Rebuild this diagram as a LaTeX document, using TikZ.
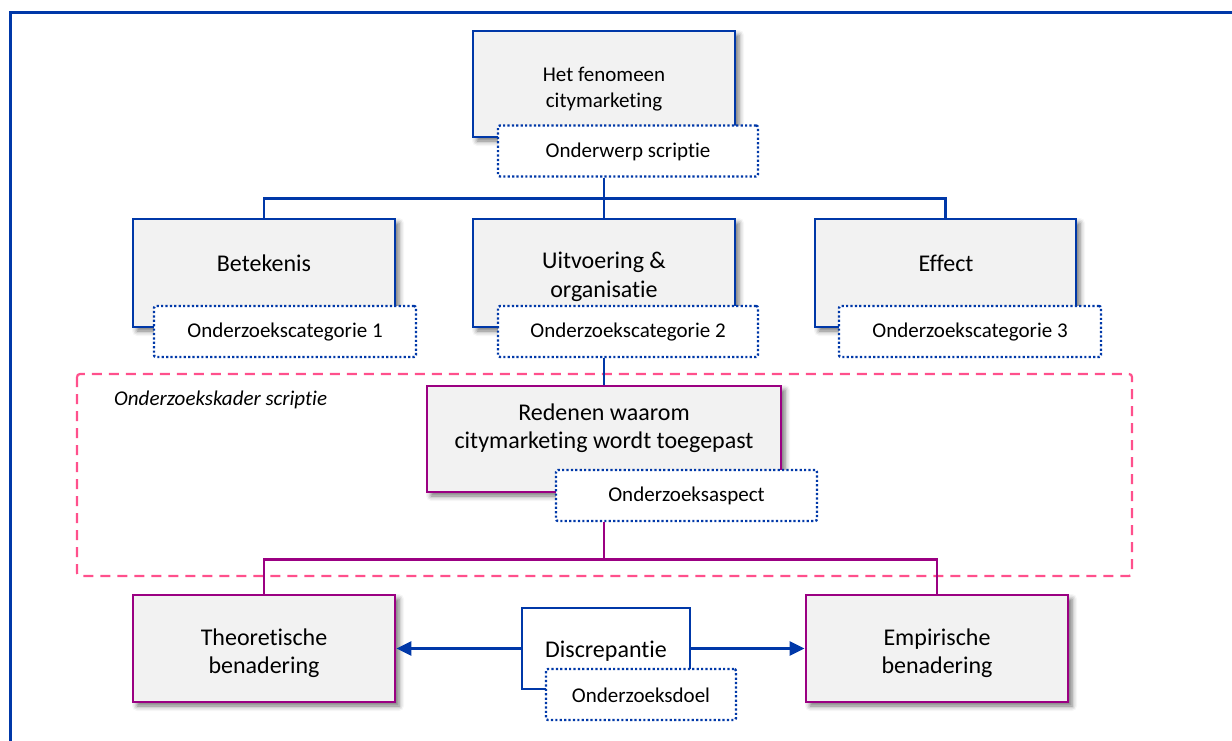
\documentclass[tikz,border=0pt]{standalone}
\usepackage{fontspec}
\setmainfont{Carlito}[Ligatures=NoCommon]
\usetikzlibrary{shadows.blur,arrows.meta}

\definecolor{frameblue}{RGB}{0,56,168}
\definecolor{aspectpurple}{RGB}{155,0,130}
\definecolor{kaderpink}{RGB}{255,80,140}
\definecolor{boxfill}{RGB}{242,242,242}

\tikzset{
  mainbox/.style={draw, line width=2.8pt, fill=boxfill, inner sep=0pt,
    blur shadow={shadow xshift=4pt, shadow yshift=-4pt, shadow blur radius=5pt, shadow opacity=55}},
  bluebox/.style={mainbox, draw=frameblue},
  purplebox/.style={mainbox, draw=aspectpurple},
  tagbox/.style={draw=frameblue, fill=white, line width=2.4pt, dash pattern=on 2.2pt off 2.2pt,
    rounded corners=2pt, inner sep=0pt, minimum height=51pt},
  bigtext/.style={inner sep=0pt, align=center, text=black, font=\fontsize{24}{28.5}\selectfont},
  toptext/.style={inner sep=0pt, align=center, text=black, font=\fontsize{21}{25.5}\selectfont},
  tagtext/.style={inner sep=0pt, text=black, font=\fontsize{21}{25}\selectfont},
  blueline/.style={draw=frameblue, line width=2.8pt},
  purpleline/.style={draw=aspectpurple, line width=2.8pt},
  arrowline/.style={blueline, -{Triangle[length=15pt,width=14pt]}},
}

\begin{document}
\begin{tikzpicture}[x=1pt,y=-1pt]
\useasboundingbox (0,0) rectangle (1232,740);
\clip (0,0) rectangle (1232,740);

% outer frame, running off the page at right and bottom
\draw[blueline, line width=3pt] (10,760) -- (10,12) -- (1250,12);

% research frame
\draw[draw=kaderpink, line width=2.2pt, dash pattern=on 10pt off 7pt, rounded corners=3pt]
  (77,374) rectangle (1132,576);
\node[anchor=west, inner sep=0pt, font=\fontsize{21}{25}\selectfont\itshape] (kader) at (114,400) {Onderzoekskader scriptie};

% subject
\node[bluebox, minimum width=262pt, minimum height=106pt] (top) at (604,84) {};
\node[toptext] (topt) at (604,89) {Het fenomeen\\citymarketing};
\node[tagbox, minimum width=260pt] (toptag) at (628,151) {};
\node[tagtext] (toptagt) at (628,152) {Onderwerp scriptie};

% research categories
\node[bluebox, minimum width=262pt, minimum height=108pt] (cat1) at (264,273) {};
\node[bigtext] (cat1t) at (264,263) {Betekenis};
\node[tagbox, minimum width=262pt] (tag1) at (285,331.5) {};
\node[tagtext] (tag1t) at (285,332) {Onderzoekscategorie 1};

\node[bluebox, minimum width=262pt, minimum height=108pt] (cat2) at (604,273) {};
\node[bigtext] (cat2t) at (604,277) {Uitvoering \&\\organisatie};
\node[tagbox, minimum width=260pt] (tag2) at (628,331.5) {};
\node[tagtext] (tag2t) at (628,332) {Onderzoekscategorie 2};

\node[bluebox, minimum width=261pt, minimum height=108pt] (cat3) at (945.5,273) {};
\node[bigtext] (cat3t) at (946,263) {Effect};
\node[tagbox, minimum width=262pt] (tag3) at (970,331.5) {};
\node[tagtext] (tag3t) at (970,332) {Onderzoekscategorie 3};

% connectors between subject and categories
\draw[blueline] (top.south |- toptag.south) -- ++(0,21) coordinate (busA);
\draw[blueline] (cat1.north) |- (busA) -| (cat3.north);
\draw[blueline] (busA) -- (cat2.north);

% research aspect
\node[purplebox, minimum width=354pt, minimum height=106pt] (asp) at (604,439) {};
\node[bigtext] (aspt) at (604,428) {Redenen waarom\\citymarketing wordt toegepast};
\node[tagbox, minimum width=261pt] (asptag) at (686.5,495.5) {};
\node[tagtext] (asptagt) at (686.5,496) {Onderzoeksaspect};

\draw[blueline] (cat2.south |- tag2.south) -- (asp.north);

% approaches
\node[purplebox, minimum width=262pt, minimum height=107pt] (theo) at (264,648.5) {};
\node[bigtext] (theot) at (264,653) {Theoretische\\benadering};
\node[purplebox, minimum width=262pt, minimum height=107pt] (emp) at (937,648.5) {};
\node[bigtext] (empt) at (937,653) {Empirische\\benadering};

\draw[purpleline] (asp.south |- asptag.south) -- ++(0,37) coordinate (busB);
\draw[purpleline] (theo.north) |- (busB) -| (emp.north);

% research goal
\node[draw=frameblue, line width=2.8pt, fill=white, inner sep=0pt,
      minimum width=168pt, minimum height=81pt] (disc) at (606,648.5) {};
\node[bigtext] (disct) at (606,651) {Discrepantie};
\node[tagbox, minimum width=190pt] (disctag) at (641,694.5) {};
\node[tagtext] (disctagt) at (641,695) {Onderzoeksdoel};

\draw[arrowline] (disc.west) -- (theo.east);
\draw[arrowline] (disc.east) -- (emp.west);
\end{tikzpicture}
\end{document}
